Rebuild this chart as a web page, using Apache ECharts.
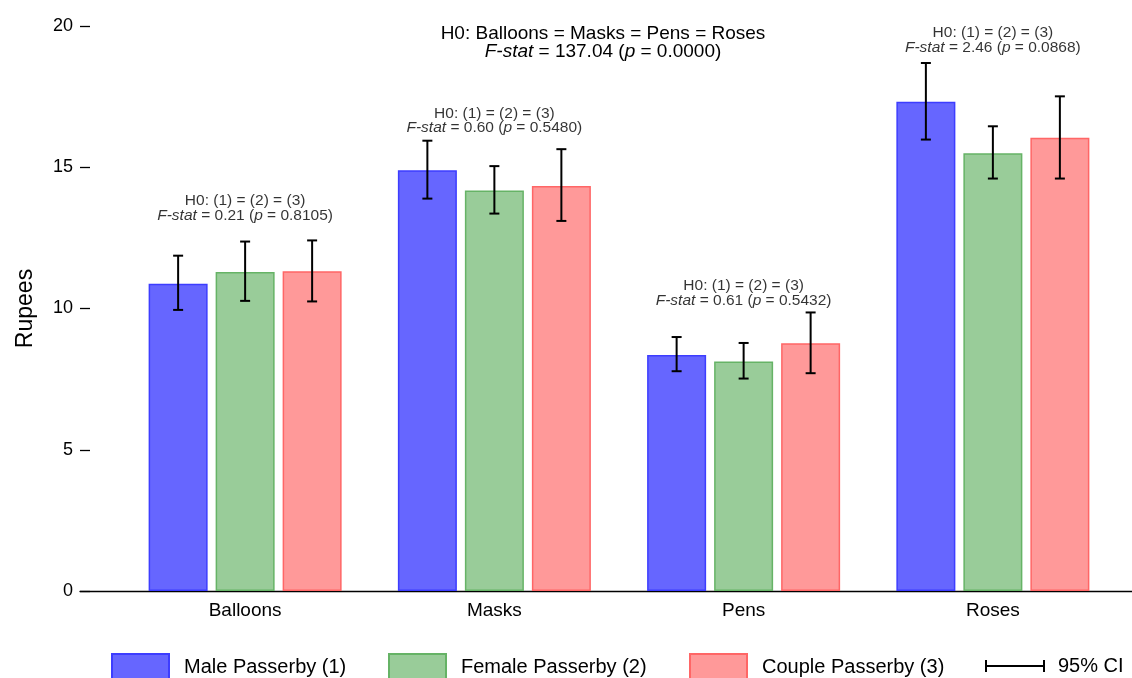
<!DOCTYPE html>
<html>
<head>
<meta charset="utf-8">
<script src="https://cdn.jsdelivr.net/npm/echarts@6/dist/echarts.min.js"></script>
<style>
html,body{margin:0;padding:0;background:#fff;}
#chart{width:1132px;height:678px;}
</style>
</head>
<body>
<div id="chart"></div>
<script>
// ---- data ----
const categories = ['Balloons', 'Masks', 'Pens', 'Roses'];
const groupNames = ['Male Passerby (1)', 'Female Passerby (2)', 'Couple Passerby (3)'];
const ciName = '95% CI';
const maleMean   = [10.88, 14.89, 8.35, 17.32];
const maleLow    = [9.95, 13.89, 7.78, 15.98];
const maleHigh   = [11.87, 15.94, 8.99, 18.69];
const femaleMean = [11.29, 14.18, 8.12, 15.50];
const femaleLow  = [10.27, 13.36, 7.52, 14.60];
const femaleHigh = [12.37, 15.04, 8.78, 16.45];
const coupleMean = [11.32, 14.34, 8.77, 16.04];
const coupleLow  = [10.25, 13.10, 7.71, 14.60];
const coupleHigh = [12.41, 15.64, 9.86, 17.51];
const fStats  = ['0.21', '0.60', '0.61', '2.46'];
const pValues = ['0.8105', '0.5480', '0.5432', '0.0868'];
const overallF = '137.04';
const overallP = '0.0000';
const yTicks = [0, 5, 10, 15, 20];

// ---- style / layout ----
const FONT = '"Liberation Sans", Arial, Helvetica, sans-serif';
const fills   = ['#6666FF', '#99CC99', '#FF9999'];
const borders = ['#3d3dFF', '#66B366', '#FF6666'];
const barW = 59, barStep = 67;
const annotDist = [17, 5, 4, 8];

const means = [maleMean, femaleMean, coupleMean];
const lows  = [maleLow, femaleLow, coupleLow];
const highs = [maleHigh, femaleHigh, coupleHigh];

const ciData = [];
for (let g = 0; g < 3; g++) {
  for (let i = 0; i < categories.length; i++) {
    ciData.push([i, lows[g][i], highs[g][i], g]);
  }
}
const annotData = categories.map((c, i) => ({
  value: [i, Math.max(maleHigh[i], femaleHigh[i], coupleHigh[i])],
  label: { distance: annotDist[i] }
}));

const chart = echarts.init(document.getElementById('chart'), null, { renderer: 'canvas' });

const barSeries = groupNames.map((name, g) => ({
  name: name,
  type: 'bar',
  data: means[g],
  barWidth: barW,
  barGap: ((barStep - barW) / barW * 100).toFixed(2) + '%',
  itemStyle: { color: fills[g], borderColor: borders[g], borderWidth: 1.5 },
  emphasis: { disabled: true },
  silent: true,
  z: 2
}));

const legendText = { color: '#000', fontSize: 20, fontFamily: FONT, padding: [0, 0, 0, 10] };

const option = {
  animation: false,
  backgroundColor: '#fff',
  textStyle: { fontFamily: FONT },
  grid: [
    { left: 120.5, right: 14.5, top: 26, bottom: 87 },
    { left: 80, right: 0, top: 26, bottom: 87 }
  ],
  xAxis: [
    {
      type: 'category', gridIndex: 0, data: categories,
      axisLine: { show: false }, axisTick: { show: false },
      axisLabel: { color: '#000', fontSize: 19, fontFamily: FONT, margin: 10 }
    },
    {
      type: 'value', gridIndex: 1, min: 0, max: 1,
      axisLine: { show: true, onZero: false, lineStyle: { color: '#000', width: 1.3 } },
      axisTick: { show: false }, axisLabel: { show: false }, splitLine: { show: false }
    }
  ],
  yAxis: [
    {
      type: 'value', gridIndex: 0, min: yTicks[0], max: yTicks[yTicks.length - 1], interval: 5,
      offset: 30.5,
      axisLine: { show: false },
      axisTick: { show: true, length: 10, lineStyle: { color: '#000', width: 1.3 } },
      axisLabel: { color: '#000', fontSize: 18, fontFamily: FONT, margin: 17 },
      splitLine: { show: false },
      name: 'Rupees', nameLocation: 'middle', nameGap: 53,
      nameTextStyle: { color: '#000', fontSize: 23, fontFamily: FONT }
    },
    { type: 'value', gridIndex: 1, min: 0, max: 1, show: false }
  ],
  legend: [
    { data: [{ name: groupNames[0], icon: 'rect' }], left: 111, top: 653 },
    { data: [{ name: groupNames[1], icon: 'rect' }], left: 388, top: 653 },
    { data: [{ name: groupNames[2], icon: 'rect' }], left: 689, top: 653 },
    { data: [{ name: ciName, icon: 'path://M0,9h60v2h-60z M0,4h2v12h-2z M58,4h2v12h-2z' }], left: 985, top: 656, itemWidth: 60, itemHeight: 22,
      textStyle: Object.assign({}, legendText, { padding: [0, 0, 0, 8] }) }
  ].map(l => Object.assign({
    orient: 'horizontal', padding: 0, itemWidth: 57, itemHeight: 26, selectedMode: false,
    textStyle: legendText
  }, l)),
  graphic: [{
    type: 'text',
    x: 603, y: 42.5,
    silent: true,
    style: {
      text: 'H0: Balloons = Masks = Pens = Roses\n{i|F-stat} = ' + overallF + ' ({i|p} = ' + overallP + ')',
      fill: '#000', fontSize: 19, fontFamily: FONT, lineHeight: 18,
      align: 'center', verticalAlign: 'middle',
      rich: { i: { fontStyle: 'italic', fontSize: 19, fontFamily: FONT, lineHeight: 18, fill: '#000' } }
    }
  }],
  series: barSeries.concat([
    {
      name: ciName,
      type: 'custom',
      xAxisIndex: 0, yAxisIndex: 0,
      itemStyle: { color: '#000' },
      silent: true,
      z: 5,
      encode: { x: 0, y: [1, 2] },
      data: ciData,
      renderItem: function (params, api) {
        const cat = api.value(0), lo = api.value(1), hi = api.value(2), g = api.value(3);
        const pLo = api.coord([cat, lo]);
        const pHi = api.coord([cat, hi]);
        const x = pLo[0] + (g - 1) * barStep;
        const cap = 5;
        const st = { stroke: '#000', lineWidth: 2 };
        return {
          type: 'group',
          children: [
            { type: 'line', shape: { x1: x, y1: pHi[1], x2: x, y2: pLo[1] }, style: st },
            { type: 'line', shape: { x1: x - cap, y1: pHi[1], x2: x + cap, y2: pHi[1] }, style: st },
            { type: 'line', shape: { x1: x - cap, y1: pLo[1], x2: x + cap, y2: pLo[1] }, style: st }
          ]
        };
      }
    },
    {
      name: 'annotations',
      type: 'scatter',
      xAxisIndex: 0, yAxisIndex: 0,
      symbolSize: 1,
      itemStyle: { color: 'rgba(0,0,0,0)' },
      silent: true,
      z: 6,
      data: annotData,
      label: {
        show: true,
        position: 'top',
        color: '#000',
        fontSize: 15.5,
        fontFamily: FONT,
        lineHeight: 14.5,
        align: 'center',
        formatter: function (p) {
          const i = p.dataIndex;
          return 'H0: (1) = (2) = (3)\n{i|F-stat} = ' + fStats[i] + ' ({i|p} = ' + pValues[i] + ')';
        },
        rich: { i: { fontStyle: 'italic', fontSize: 15.5, fontFamily: FONT, lineHeight: 14.5, color: '#000' } }
      }
    }
  ])
};

chart.setOption(option);
</script>
</body>
</html>
